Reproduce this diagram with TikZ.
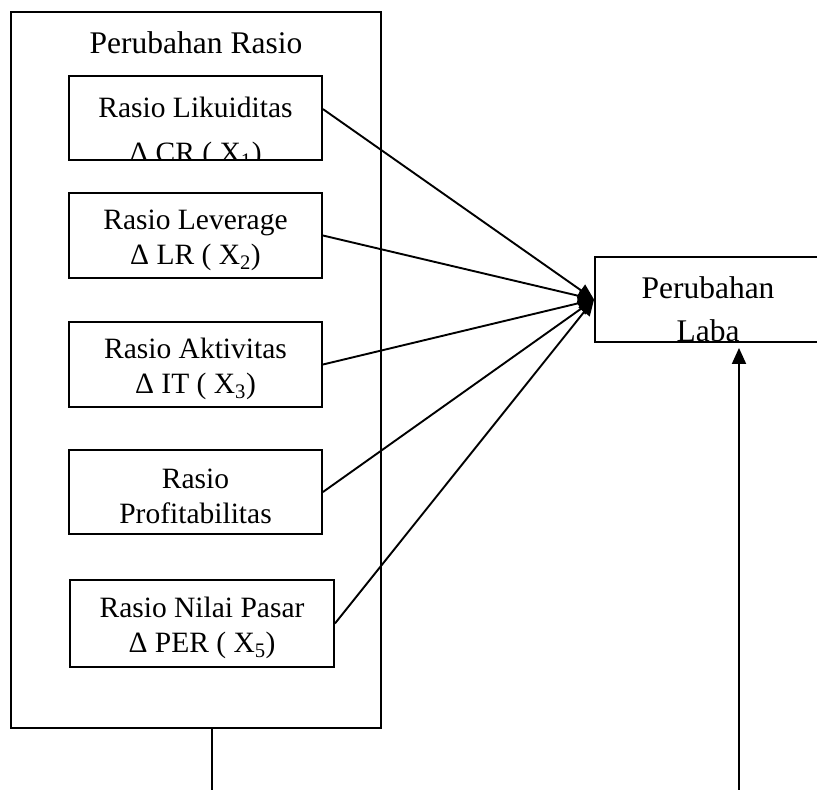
\documentclass[tikz,border=0pt]{standalone}
\usepackage{fontspec}
\setmainfont{Liberation Serif}
\usetikzlibrary{arrows.meta}

\tikzset{
    boxtext/.style={font=\fontsize{29.5}{35}\selectfont, align=center},
    bigtext/.style={font=\fontsize{31.5}{37}\selectfont, align=center},
    ratiobox/.style 2 args={draw, inner sep=0pt, minimum width=253pt, minimum height=85pt,
        path picture={\node[boxtext] at ([yshift=#1]path picture bounding box.center) {#2};}},
    link/.style={-{Triangle[length=16pt,width=14pt]}}
}

\begin{document}
\begin{tikzpicture}[x=1pt, y=-1pt, line width=1.9pt]
    \useasboundingbox (0,0) rectangle (817,790);

    % kotak besar
    \node[draw, minimum width=370pt, minimum height=716pt] (outer) at (196,370) {};
    \node[bigtext, anchor=base] (title) at (196,53) {Perubahan Rasio};

    % rasio-rasio
    \node[ratiobox={-15pt}{Rasio Likuiditas\\[10pt]Δ CR ( X\textsubscript{1})},
          minimum height=84pt] (likuid) at (195.5,118) {};
    \node[ratiobox={-5pt}{Rasio Leverage\\Δ LR ( X\textsubscript{2})}]
          (lever) at (195.5,235.5) {};
    \node[ratiobox={-4pt}{Rasio Aktivitas\\Δ IT ( X\textsubscript{3})}]
          (aktiv) at (195.5,364.5) {};
    \node[ratiobox={-4pt}{Rasio\\Profitabilitas},
          minimum height=84pt] (profit) at (195.5,492) {};
    \node[ratiobox={-4pt}{Rasio Nilai Pasar\\Δ PER ( X\textsubscript{5})},
          minimum width=264pt, minimum height=87pt] (pasar) at (202,623.5) {};

    % perubahan laba
    \node[draw, inner sep=0pt, minimum width=226pt, minimum height=85pt,
          path picture={\node[bigtext] at ([yshift=-10pt]path picture bounding box.center)
              {Perubahan\\[6pt]Laba};}] (laba) at (708,299.5) {};

    % panah
    \draw[link] (likuid.4) -- (laba.west);
    \draw[link] (lever.east) -- (laba.west);
    \draw[link] (aktiv.east) -- (laba.west);
    \draw[link] (profit.east) -- (laba.west);
    \draw[link] (pasar.east) -- (laba.west);

    \coordinate (kiri) at (212,790);
    \coordinate (kanan) at (739,790);
    \draw (kiri |- outer.south) -- (kiri);
    \draw[link, shorten >=5pt] (kanan) -- (kanan |- laba.south);
\end{tikzpicture}
\end{document}
